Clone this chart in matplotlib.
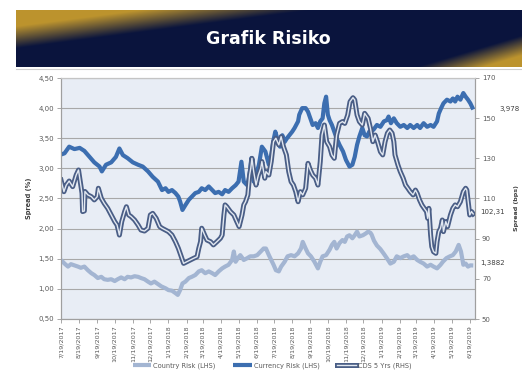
import numpy as np
import pandas as pd
import matplotlib
matplotlib.use("Agg")
import matplotlib.pyplot as plt
import matplotlib.patheffects as pe
import matplotlib.transforms as mtransforms
from matplotlib.lines import Line2D

# ---------------- data ----------------
start_date = "2017-07-19"

country_days = [0, 6, 12, 17, 23, 29, 34, 40, 46, 52, 57, 63, 69, 74, 80, 86, 92, 97, 103, 109,
                114, 120, 126, 132, 137, 143, 149, 154, 160, 166, 172,
                179, 184, 190, 196, 200, 204, 208, 213, 219, 224, 230, 236, 241, 247, 253, 259, 264,
                270, 276, 281, 287, 293, 296, 299, 303, 307, 313, 319, 324, 330, 336, 342, 347,
                351, 356, 360, 364, 368, 373, 377, 383, 388, 394, 400, 406, 411, 414, 419, 423, 428,
                434, 440, 444, 448, 454, 460, 464, 468, 472, 477, 482, 486, 490, 494, 499, 503, 507,
                511, 517, 522, 526, 530,
                532, 536, 541, 547, 553, 558, 564, 570, 575, 581, 587, 593, 598, 604, 610, 615, 621,
                627, 633, 638, 644, 650, 654, 660, 666, 671, 676, 681, 685, 689, 693, 697, 701, 706]
country_vals = [1.48, 1.42, 1.37, 1.41, 1.39, 1.37, 1.35, 1.37, 1.31, 1.26, 1.23, 1.18, 1.20, 1.16, 1.15, 1.16, 1.13, 1.16, 1.19, 1.16,
                1.20, 1.19, 1.21, 1.20, 1.18, 1.16, 1.12, 1.09, 1.12, 1.08, 1.04,
                1.01, 0.98, 0.97, 0.93, 0.90, 0.98, 1.09, 1.12, 1.18, 1.20, 1.23, 1.29, 1.31, 1.26, 1.29, 1.26, 1.23,
                1.29, 1.34, 1.37, 1.40, 1.48, 1.62, 1.45, 1.51, 1.56, 1.48, 1.51, 1.54, 1.54, 1.56, 1.62, 1.67,
                1.67, 1.56, 1.48, 1.40, 1.31, 1.29, 1.37, 1.45, 1.54, 1.56, 1.54, 1.59, 1.67, 1.78, 1.67, 1.59, 1.54,
                1.45, 1.34, 1.45, 1.54, 1.56, 1.65, 1.73, 1.78, 1.67, 1.76, 1.81, 1.78, 1.87, 1.89, 1.84, 1.89, 1.95,
                1.87, 1.89, 1.92, 1.95, 1.93,
                1.90, 1.80, 1.72, 1.66, 1.58, 1.51, 1.42, 1.45, 1.54, 1.51, 1.54, 1.56, 1.51, 1.54, 1.48, 1.45, 1.42,
                1.37, 1.40, 1.37, 1.34, 1.40, 1.45, 1.51, 1.54, 1.56, 1.62, 1.73, 1.62, 1.40, 1.42, 1.37, 1.39, 1.3882]

currency_days = [0, 6, 14, 23, 32, 40, 49, 57, 66, 70, 77, 86, 94, 100, 106, 114, 123, 132, 140, 149, 157, 166, 173,
                 179, 184, 190, 196, 201, 204, 208, 213, 219, 224, 230, 236, 241, 247, 253, 259, 264, 270, 276,
                 281, 287, 293, 299, 304, 309, 313, 319, 323, 326, 330, 334, 339, 344, 350,
                 356, 360, 364, 367, 371, 375, 379, 383, 387, 391, 396, 400, 406, 408, 413, 419, 423, 427, 431,
                 436, 440, 444, 448, 451, 454, 457, 460, 464, 468, 472, 477, 483, 488, 494, 499, 503, 507, 511,
                 516, 520, 524, 528,
                 535, 541, 547, 553, 558, 561, 565, 570, 575, 581, 587, 593, 598, 604, 610, 615, 621, 627, 633,
                 638, 644, 647, 651, 655, 661, 667, 671, 675, 679, 684, 689, 693, 697, 701, 706]
currency_vals = [3.23, 3.25, 3.36, 3.32, 3.34, 3.29, 3.19, 3.10, 3.03, 2.95, 3.06, 3.10, 3.19, 3.33, 3.22, 3.17, 3.10, 3.06, 3.03, 2.95, 2.86, 2.78, 2.64,
                 2.67, 2.61, 2.64, 2.59, 2.53, 2.45, 2.31, 2.39, 2.48, 2.53, 2.59, 2.61, 2.67, 2.64, 2.70, 2.64, 2.59, 2.61, 2.57,
                 2.64, 2.61, 2.67, 2.72, 2.78, 3.11, 2.78, 2.72, 2.89, 3.17, 2.78, 2.89, 3.06, 3.36, 3.28,
                 3.06, 3.22, 3.47, 3.61, 3.47, 3.36, 3.55, 3.44, 3.50, 3.55, 3.61, 3.67, 3.78, 3.89, 4.00, 4.00, 3.94, 3.83, 3.72,
                 3.75, 3.67, 3.78, 3.83, 4.08, 4.19, 3.89, 3.80, 3.72, 3.61, 3.50, 3.39, 3.28, 3.14, 3.03, 3.06, 3.19, 3.39, 3.53,
                 3.67, 3.55, 3.53, 3.61,
                 3.64, 3.72, 3.69, 3.78, 3.80, 3.86, 3.75, 3.83, 3.75, 3.69, 3.72, 3.67, 3.72, 3.67, 3.72, 3.67, 3.75, 3.69, 3.72,
                 3.69, 3.78, 3.91, 4.00, 4.08, 4.14, 4.11, 4.16, 4.11, 4.19, 4.14, 4.25, 4.19, 4.14, 4.08, 3.978]

cds_days = [0, 5, 9, 14, 20, 26, 30, 33, 36, 37, 40, 41, 46, 52, 57, 62, 64, 69, 74, 80,
            86, 92, 96, 100, 104, 109, 112, 116, 120, 126, 132, 137, 143, 149, 153, 157, 163, 169,
            173, 179, 184, 190, 196, 201, 207, 210, 216, 221, 227, 233, 236, 239, 241, 246, 250, 256, 261, 267,
            273, 276, 279, 281, 284, 290, 296, 301, 305, 310, 313, 316, 320, 323, 325, 327, 330, 334, 338, 342,
            344, 349,
            351, 356, 360, 364, 368, 373, 377, 381, 386, 390, 394, 398, 402, 406, 410, 414, 419, 423, 427, 431,
            436, 440, 444, 447, 451, 455, 460, 464, 468, 472, 477, 482, 486, 491, 495, 500, 503, 507, 511, 516,
            520, 526, 530,
            534, 538, 542, 547, 551, 555, 559, 563, 567, 570, 572, 577, 581, 586, 590, 594, 598, 603, 607, 610,
            614, 618, 622, 626, 628, 630, 633, 635, 638, 642, 644, 647, 650, 653, 655, 659, 662, 667, 671, 675,
            679, 684, 689, 693, 695, 698, 700, 703, 706]
cds_vals = [119.2, 113.4, 116.7, 118.7, 115.9, 121.7, 124.2, 118.4, 112.6, 103.5, 103.8, 113.5, 111.8, 110.9, 109.3, 110.9, 115.1, 110.1, 107.6, 105.1,
            101.8, 98.5, 96.8, 91.8, 98.5, 103.5, 105.9, 101.8, 101.0, 99.3, 96.8, 94.3, 93.8, 95.2, 101.8, 102.6, 100.1, 96.0,
            95.2, 94.3, 93.5, 91.8, 88.5, 85.2, 80.2, 77.7, 78.6, 79.4, 80.2, 81.0, 85.2, 88.5, 95.2, 91.8, 89.3, 88.5, 86.9, 88.5,
            90.2, 91.8, 101.8, 106.8, 105.9, 103.5, 101.8, 98.5, 96.0, 101.8, 106.8, 108.4, 111.8, 121.7, 125.0, 130.0, 123.4, 116.7, 121.7, 125.0,
            128.4, 120.1,
            123.4, 121.7, 128.4, 138.3, 140.0, 136.7, 140.8, 135.8, 131.7, 123.4, 118.4, 116.7, 113.4, 108.4, 113.4, 111.8, 115.1, 127.5, 124.2, 121.7,
            120.1, 116.7, 128.4, 141.6, 146.6, 138.3, 135.8, 131.7, 130.0, 141.6, 147.4, 148.3, 147.4, 151.6, 158.2, 160.2, 159.1, 151.6, 148.3, 146.6,
            152.4, 149.9, 144.9,
            138.3, 141.6, 138.3, 133.3, 131.7, 138.3, 142.5, 144.1, 142.5, 138.3, 131.7, 126.7, 123.4, 120.1, 116.7, 115.1, 113.4, 111.8, 114.2, 112.6,
            109.3, 106.8, 105.1, 103.5, 100.1, 105.1, 91.8, 86.0, 83.5, 82.7, 88.5, 93.5, 95.2, 99.3, 93.5, 98.5, 96.0, 101.8, 105.1, 106.8,
            105.9, 108.4, 113.4, 115.1, 114.2, 106.8, 101.8, 103.5, 102.31]

tick_labels = ["7/19/2017", "8/19/2017", "9/19/2017", "10/19/2017", "11/19/2017", "12/19/2017",
               "1/19/2018", "2/19/2018", "3/19/2018", "4/19/2018", "5/19/2018", "6/19/2018",
               "7/19/2018", "8/19/2018", "9/19/2018", "10/19/2018", "11/19/2018", "12/19/2018",
               "1/19/2019", "2/19/2019", "3/19/2019", "4/19/2019", "5/19/2019", "6/19/2019"]
left_ticks = [0.5, 1.0, 1.5, 2.0, 2.5, 3.0, 3.5, 4.0, 4.5]
right_ticks = [50, 70, 90, 110, 130, 150, 170]
series_names = ["Country Risk (LHS)", "Currency Risk (LHS)", "CDS 5 Yrs (RHS)"]
title = "Grafik Risiko"

# ---------------- figure ----------------
W, H = 522, 383
fig = plt.figure(figsize=(W / 100, H / 100), dpi=100)
fig.patch.set_facecolor("white")

# header band
hx0, hy0, hx1, hy1 = 16, 10, 522, 67
axh = fig.add_axes([hx0 / W, 1 - hy1 / H, (hx1 - hx0) / W, (hy1 - hy0) / H])
nh, nw = (hy1 - hy0) * 2, (hx1 - hx0) * 2
vv, uu = np.mgrid[0:nh, 0:nw]
uu = uu / 2.0
vv = vv / 2.0
w1 = np.clip((38 - 0.13 * uu - vv) / 22.0, 0, 1)
w2 = np.clip((vv - (57 - (uu - 400) * 0.3)) / 20.0, 0, 1)
wgt = np.maximum(w1, w2)[..., None]
navy = np.array([0.04, 0.08, 0.24])
gold = np.array([0.74, 0.58, 0.18])
img = navy * (1 - wgt) + gold * wgt
axh.imshow(img, aspect="auto", extent=[0, 1, 0, 1], interpolation="bilinear")
axh.set_xlim(0, 1)
axh.set_ylim(0, 1)
axh.axis("off")
axh.text(0.498, 0.50, title, color="white", fontsize=12.5, fontweight="bold",
         ha="center", va="center", family="DejaVu Sans")
fig.add_artist(Line2D([hx0 / W, 1], [1 - 68.5 / H, 1 - 68.5 / H], color="#cfcfcf", lw=0.8))

# main axes
L, R, T, B = 61, 475, 78, 319
ax = fig.add_axes([L / W, 1 - B / H, (R - L) / W, (B - T) / H])
ax.set_facecolor("#e8edf5")
ax2 = ax.twinx()

t0 = np.datetime64(start_date)
def to_dates(days):
    return t0 + np.array(days).astype("timedelta64[D]")

c_country = "#a3b5d2"
c_currency = "#3c6eb0"
l1, = ax.plot(to_dates(country_days), country_vals, color=c_country, lw=3.0,
              solid_joinstyle="round", solid_capstyle="butt", label=series_names[0], zorder=3)
l2, = ax.plot(to_dates(currency_days), currency_vals, color=c_currency, lw=3.0,
              solid_joinstyle="round", solid_capstyle="butt", label=series_names[1], zorder=4)
l3, = ax2.plot(to_dates(cds_days), cds_vals, color="#e2e8f1", lw=1.0,
               solid_joinstyle="round", label=series_names[2],
               path_effects=[pe.Stroke(linewidth=3.6, foreground="#4a5e86"), pe.Normal()])

ax.set_ylim(left_ticks[0], left_ticks[-1])
ax2.set_ylim(right_ticks[0], right_ticks[-1])
ax.set_xlim(t0, t0 + np.timedelta64(709, "D"))

tick_pos = pd.to_datetime(tick_labels, format="%m/%d/%Y")
ax.set_xticks(tick_pos)
ax.set_xticklabels(tick_labels, rotation=90, fontsize=4.6, color="#5a5a5a")
ax.set_yticks(left_ticks)
ax.set_yticklabels([f"{t:.2f}".replace(".", ",") for t in left_ticks], fontsize=5, color="#5a5a5a")
ax2.set_yticks(right_ticks)
ax2.set_yticklabels([str(t) for t in right_ticks], fontsize=5, color="#5a5a5a")

ax.tick_params(axis="y", length=3, width=0.6, color="#9a9a9a", pad=2)
ax.tick_params(axis="x", length=3, width=0.6, color="#9a9a9a", pad=1.5)
ax2.tick_params(axis="y", length=3, width=0.6, color="#9a9a9a", pad=2)

ax.yaxis.grid(True, color="#a8a8a8", lw=0.8)
ax.set_axisbelow(True)
for a in (ax, ax2):
    for s in ("left", "bottom", "right"):
        a.spines[s].set_color("#9f9f9f")
        a.spines[s].set_linewidth(0.8)
    a.spines["top"].set_color("#c4c4c4")
    a.spines["top"].set_linewidth(0.8)

ax.set_ylabel("Spread (%)", fontsize=4.8, fontweight="bold", color="#404040")
ax.yaxis.set_label_coords((32 - L) / (R - L), 0.5)
ax2.set_ylabel("Spread (bps)", fontsize=4.6, fontweight="bold", color="#404040", rotation=90)
ax2.yaxis.set_label_coords((514 - L) / (R - L), 0.46)

# last-value labels
tr1 = mtransforms.blended_transform_factory(ax.transAxes, ax.transData)
tr2 = mtransforms.blended_transform_factory(ax2.transAxes, ax2.transData)
ax.text((499 - L) / (R - L), currency_vals[-1], str(currency_vals[-1]).replace(".", ","),
        transform=tr1, fontsize=5, color="#404040", ha="left", va="center", clip_on=False)
ax2.text((480 - L) / (R - L), cds_vals[-1], str(cds_vals[-1]).replace(".", ","),
         transform=tr2, fontsize=5, color="#404040", ha="left", va="baseline", clip_on=False)
ax.text((480 - L) / (R - L), country_vals[-1], str(country_vals[-1]).replace(".", ","),
        transform=tr1, fontsize=5, color="#404040", ha="left", va="baseline", clip_on=False)

# legend
fig.legend([l1, l2, l3], series_names, loc="center", bbox_to_anchor=(272 / W, 1 - 366 / H),
           ncol=3, frameon=False, fontsize=4.8, handlelength=2.8, columnspacing=2.6,
           handletextpad=0.3, labelcolor="#5a5a5a")

fig.savefig("out.png", dpi=100, facecolor="white")
